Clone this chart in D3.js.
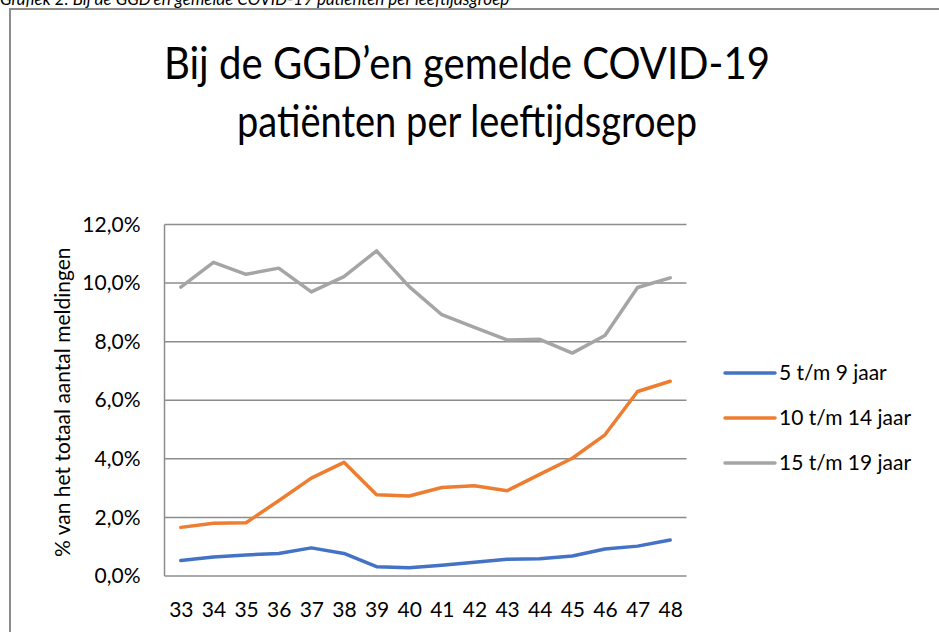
<!DOCTYPE html>
<html>
<head>
<meta charset="utf-8">
<script src="https://cdn.jsdelivr.net/npm/d3@7"></script>
<style>
  body { margin: 0; background: #fff; }
  text { font-family: Lato, "Open Sans", sans-serif; fill: #000; }
</style>
</head>
<body>
<div id="chart"></div>
<script>
// week numbers
var weeks = ['33','34','35','36','37','38','39','40','41','42','43','44','45','46','47','48'];
var ageGroups = ['5 t/m 9 jaar', '10 t/m 14 jaar', '15 t/m 19 jaar'];
// share of all reports, in percent
var age5to9   = [0.53, 0.65, 0.72, 0.77, 0.96, 0.77, 0.32, 0.28, 0.37, 0.47, 0.57, 0.59, 0.68, 0.92, 1.02, 1.23];
var age10to14 = [1.66, 1.80, 1.82, 2.57, 3.34, 3.88, 2.77, 2.73, 3.02, 3.08, 2.91, 3.47, 4.02, 4.82, 6.30, 6.65];
var age15to19 = [9.86, 10.71, 10.30, 10.51, 9.70, 10.22, 11.10, 9.88, 8.92, 8.49, 8.06, 8.08, 7.61, 8.21, 9.85, 10.18];
var yTicks = [0, 2, 4, 6, 8, 10, 12];
var colors = ['#4472C4', '#ED7D31', '#A5A5A5'];

var series = [age5to9, age10to14, age15to19];

var W = 939, H = 632;
var m = { left: 164.5, right: 686.5, top: 224.5, bottom: 576 };
var fontSize = '21px';

var svg = d3.select('#chart').append('svg')
  .attr('width', W).attr('height', H);

// caption above the chart, partly cut off by the top of the page (as in the source)
svg.append('text')
  .attr('x', 0).attr('y', 5)
  .style('font-style', 'italic').style('font-size', '17px')
  .text('Grafiek 2: Bij de GGD’en gemelde COVID-19 patiënten per leeftijdsgroep');

// chart frame (only top and left edges visible)
svg.append('path')
  .attr('d', 'M10,' + H + ' V9 H' + W)
  .attr('fill', 'none').attr('stroke', '#8c8c8c').attr('stroke-width', 2);

// title, squeezed to the narrow width of the original font
svg.append('text')
  .attr('x', 164).attr('y', 79)
  .attr('textLength', 606).attr('lengthAdjust', 'spacingAndGlyphs')
  .style('font-size', '44px')
  .text('Bij de GGD’en gemelde COVID-19');
svg.append('text')
  .attr('x', 237).attr('y', 137)
  .attr('textLength', 460).attr('lengthAdjust', 'spacingAndGlyphs')
  .style('font-size', '44px')
  .text('patiënten per leeftijdsgroep');

var x = d3.scalePoint().domain(weeks).range([m.left, m.right]).padding(0.5);
var y = d3.scaleLinear().domain([0, 12]).range([m.bottom, m.top]);

// gridlines
svg.append('g').selectAll('line').data(yTicks).join('line')
  .attr('x1', m.left).attr('x2', m.right)
  .attr('y1', function (d) { return y(d); }).attr('y2', function (d) { return y(d); })
  .attr('stroke', '#8c8c8c').attr('stroke-width', 1.5);

svg.append('line')
  .attr('x1', m.left).attr('x2', m.left).attr('y1', m.top).attr('y2', m.bottom)
  .attr('stroke', '#8c8c8c').attr('stroke-width', 1.5);

var yAxis = svg.append('g')
  .attr('transform', 'translate(' + (m.left - 24) + ',0)')
  .call(d3.axisLeft(y).tickValues(yTicks).tickSize(0).tickPadding(0)
    .tickFormat(function (d) { return d3.format('.1f')(d).replace('.', ',') + '%'; }));
yAxis.select('.domain').remove();
yAxis.selectAll('text').style('font-size', fontSize).attr('fill', '#000')
  .style('font-family', 'Lato, "Open Sans", sans-serif');

var xAxis = svg.append('g')
  .attr('transform', 'translate(0,' + (m.bottom + 26) + ')')
  .call(d3.axisBottom(x).tickSize(0).tickPadding(0));
xAxis.select('.domain').remove();
xAxis.selectAll('text').style('font-size', fontSize).attr('fill', '#000')
  .style('font-family', 'Lato, "Open Sans", sans-serif');

svg.append('text')
  .attr('transform', 'translate(70,' + ((m.top + m.bottom) / 2 + 2) + ') rotate(-90)')
  .attr('text-anchor', 'middle').style('font-size', fontSize)
  .text('% van het totaal aantal meldingen');

var line = d3.line()
  .x(function (d, i) { return x(weeks[i]); })
  .y(function (d) { return y(d); });

svg.append('g').selectAll('path').data(series).join('path')
  .attr('d', line)
  .attr('fill', 'none')
  .attr('stroke', function (d, i) { return colors[i]; })
  .attr('stroke-width', 3.5)
  .attr('stroke-linejoin', 'round')
  .attr('stroke-linecap', 'round');

// legend
var lg = svg.append('g').selectAll('g').data(ageGroups).join('g')
  .attr('transform', function (d, i) { return 'translate(725,' + (373 + i * 45) + ')'; });
lg.append('line')
  .attr('x1', 0).attr('x2', 50)
  .attr('stroke', function (d, i) { return colors[i]; })
  .attr('stroke-width', 3.5).attr('stroke-linecap', 'round');
lg.append('text')
  .attr('x', 54).attr('dy', '0.35em').style('font-size', fontSize)
  .text(function (d) { return d; });
</script>
</body>
</html>
